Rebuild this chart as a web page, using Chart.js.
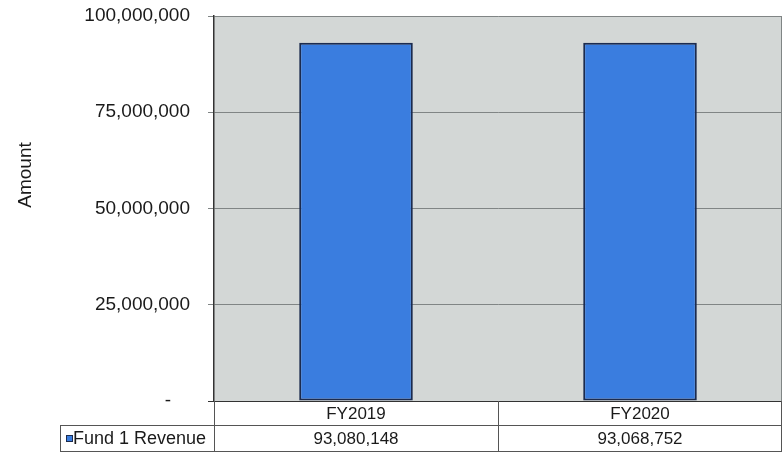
<!DOCTYPE html>
<html>
<head>
<meta charset="utf-8">
<script src="https://cdn.jsdelivr.net/npm/chart.js@4/dist/chart.umd.min.js"></script>
<style>
  html, body { margin: 0; padding: 0; background: #ffffff; }
  canvas { display: block; }
</style>
</head>
<body>
<canvas id="c" width="784" height="454"></canvas>
<script>
// Fund revenue by fiscal year
const categories = ['FY2019', 'FY2020'];
const seriesName = 'Fund 1 Revenue';
const revenue = [93080148, 93068752];
const yTicks = [0, 25000000, 50000000, 75000000, 100000000];
const yTitle = 'Amount';

const FONT = '"Liberation Sans", Arial, sans-serif';
const BAR_FILL = '#3a7ddf';
const BAR_EDGE = '#1b2b4f';
const PLOT_BG = '#d3d7d6';
const GRID = '#808585';
const INK = '#1a1a1a';

const fmt = v => v.toLocaleString('en-US');

// Grey plot background behind the bars, with a thin frame on the right
const plotBackground = {
  id: 'plotBackground',
  beforeDraw(chart) {
    const { ctx, chartArea: a } = chart;
    ctx.save();
    ctx.fillStyle = PLOT_BG;
    ctx.fillRect(a.left, a.top, a.right - a.left, a.bottom - a.top);
    ctx.strokeStyle = GRID;
    ctx.lineWidth = 1;
    ctx.beginPath();
    ctx.moveTo(a.right - 0.5, a.top);
    ctx.lineTo(a.right - 0.5, a.bottom);
    ctx.stroke();
    ctx.restore();
  }
};

// Rotated y-axis title, sitting a little above the middle of the axis
const axisTitle = {
  id: 'axisTitle',
  afterDraw(chart) {
    const { ctx } = chart;
    ctx.save();
    ctx.translate(26, 175);
    ctx.rotate(-Math.PI / 2);
    ctx.fillStyle = INK;
    ctx.font = '19px ' + FONT;
    ctx.textAlign = 'center';
    ctx.textBaseline = 'middle';
    ctx.fillText(yTitle, 0, 0);
    ctx.restore();
  }
};

// Data table under the plot: category row plus one value row with legend key
const dataTable = {
  id: 'dataTable',
  afterDraw(chart) {
    const { ctx, chartArea: a } = chart;
    const x = chart.scales.x;
    const n = categories.length;
    const colW = (a.right - a.left) / n;
    const row1Top = a.bottom, row1Bot = a.bottom + 24, row2Bot = a.bottom + 50;
    const legendLeft = 60;

    ctx.save();
    ctx.strokeStyle = '#555';
    ctx.lineWidth = 1;
    ctx.beginPath();
    ctx.moveTo(legendLeft, row1Bot + 0.5); ctx.lineTo(a.right, row1Bot + 0.5);
    ctx.moveTo(legendLeft, row2Bot + 0.5); ctx.lineTo(a.right, row2Bot + 0.5);
    ctx.moveTo(legendLeft + 0.5, row1Bot); ctx.lineTo(legendLeft + 0.5, row2Bot);
    for (let i = 0; i <= n; i++) {
      const xx = Math.round(a.left + i * colW) - (i === n ? 0.5 : -0.5);
      ctx.moveTo(xx, row1Top); ctx.lineTo(xx, row2Bot);
    }
    ctx.stroke();

    ctx.fillStyle = INK;
    ctx.font = '17px ' + FONT;
    ctx.textAlign = 'center';
    ctx.textBaseline = 'middle';
    categories.forEach((c, i) => {
      const cx = x.getPixelForValue(i);
      ctx.fillText(c, cx, (row1Top + row1Bot) / 2 + 1);
      ctx.fillText(fmt(revenue[i]), cx, (row1Bot + row2Bot) / 2 + 1);
    });

    const ky = (row1Bot + row2Bot) / 2 - 3;
    ctx.fillStyle = BAR_FILL;
    ctx.fillRect(legendLeft + 6, ky, 6, 6);
    ctx.strokeStyle = BAR_EDGE;
    ctx.strokeRect(legendLeft + 6.5, ky + 0.5, 6, 6);
    ctx.fillStyle = INK;
    ctx.textAlign = 'left';
    ctx.font = '18px ' + FONT;
    ctx.fillText(seriesName, legendLeft + 13, (row1Bot + row2Bot) / 2 + 1);
    ctx.restore();
  }
};

new Chart(document.getElementById('c'), {
  type: 'bar',
  data: {
    labels: categories,
    datasets: [{
      label: seriesName,
      data: revenue,
      backgroundColor: BAR_FILL,
      borderColor: BAR_EDGE,
      borderWidth: 2,
      borderSkipped: false,
      barPercentage: 0.4,
      categoryPercentage: 1.0
    }]
  },
  options: {
    responsive: false,
    animation: false,
    devicePixelRatio: 1,
    layout: { padding: { left: 0, right: 2, top: 16, bottom: 53 } },
    plugins: {
      legend: { display: false },
      tooltip: { enabled: false }
    },
    scales: {
      x: { display: false },
      y: {
        min: 0,
        max: 100000000,
        afterBuildTicks(scale) { scale.ticks = yTicks.map(v => ({ value: v })); },
        afterFit(scale) {
          scale.width = 214;
          scale.paddingTop = 0;
          scale.paddingBottom = 0;
        },
        ticks: {
          color: INK,
          font: { family: FONT, size: 19 },
          padding: 18,
          // zero is shown as an accounting-style dash, set in from the edge
          callback: v => (v === 0 ? '-\u2002\u2002' : fmt(v))
        },
        grid: {
          color: ctx => (ctx.tick && ctx.tick.value === 0 ? '#333' : GRID),
          lineWidth: 1,
          tickLength: 6,
          drawTicks: true
        },
        border: { display: true, color: '#333', width: 1.5 },
        title: { display: false }
      }
    }
  },
  plugins: [plotBackground, axisTitle, dataTable]
});
</script>
</body>
</html>
